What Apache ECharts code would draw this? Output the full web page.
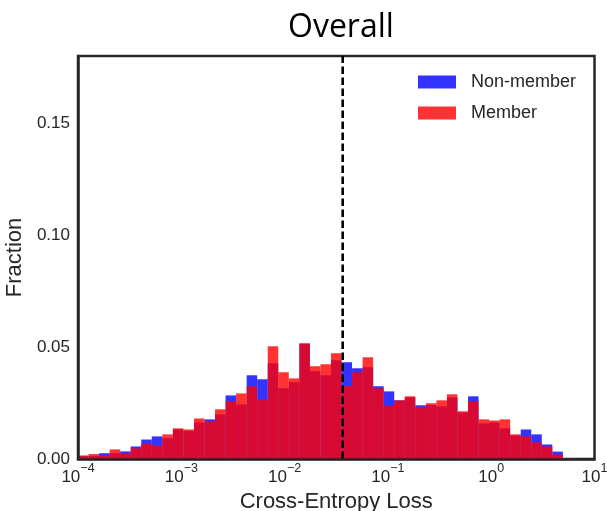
<!DOCTYPE html>
<html>
<head>
<meta charset="utf-8">
<script src="https://cdn.jsdelivr.net/npm/echarts@6/dist/echarts.min.js"></script>
<style>
  html, body { margin: 0; padding: 0; background: #ffffff; }
  #chart { width: 607px; height: 511px; }
</style>
</head>
<body>
<div id="chart"></div>
<script>
// Histogram of per-sample cross-entropy loss, log-spaced bins from 1e-4 to 1e1
const BIN_LOG_START = -4;
const BIN_LOG_END = 1;
const BIN_COUNT = 49;

// Fraction of samples per bin (first 47 bins; the rest are empty)
const nonMember = [
  0.0013, 0.0014, 0.0026, 0.0026, 0.0034, 0.0056, 0.0087, 0.0101, 0.0093, 0.0132,
  0.0125, 0.0163, 0.0177, 0.0199, 0.0284, 0.0244, 0.0374, 0.0356, 0.0428, 0.0316,
  0.0343, 0.0515, 0.0392, 0.0374, 0.0441, 0.0432, 0.0405, 0.0410, 0.0325, 0.0302,
  0.0262, 0.0275, 0.0240, 0.0241, 0.0235, 0.0275, 0.0208, 0.0280, 0.0159, 0.0163,
  0.0137, 0.0105, 0.0132, 0.0110, 0.0065, 0.0033, 0.0004
];
const member = [
  0.0016, 0.0022, 0.0017, 0.0043, 0.0025, 0.0048, 0.0069, 0.0060, 0.0110, 0.0137,
  0.0132, 0.0181, 0.0168, 0.0222, 0.0258, 0.0293, 0.0325, 0.0265, 0.0504, 0.0387,
  0.0360, 0.0517, 0.0414, 0.0423, 0.0472, 0.0326, 0.0387, 0.0454, 0.0316, 0.0237,
  0.0262, 0.0280, 0.0231, 0.0249, 0.0262, 0.0289, 0.0213, 0.0258, 0.0177, 0.0172,
  0.0177, 0.0110, 0.0101, 0.0074, 0.0056, 0.0020, 0.0004
];

// Decision threshold on the loss
const threshold = 0.0365;
const Y_MAX = 0.18;
const yTicks = [0, 0.05, 0.10, 0.15];
const seriesNames = ['Non-member', 'Member'];

const FONT = "'Liberation Sans', Arial, sans-serif";
const INK = '#262626';

function binEdge(i) {
  return Math.pow(10, BIN_LOG_START + i * (BIN_LOG_END - BIN_LOG_START) / BIN_COUNT);
}
function toBins(values) {
  return values.map((v, i) => [binEdge(i), binEdge(i + 1), v]);
}

function renderBar(params, api) {
  const lo = api.value(0), hi = api.value(1), v = api.value(2);
  const p0 = api.coord([lo, v]);
  const p1 = api.coord([hi, 0]);
  return {
    type: 'rect',
    shape: { x: p0[0], y: p0[1], width: p1[0] - p0[0], height: p1[1] - p0[1] },
    style: { fill: api.visual('color') }
  };
}

const supMinus = s => s.replace('-', '\u2212');

const chart = echarts.init(document.getElementById('chart'), null, { renderer: 'canvas' });
chart.setOption({
  animation: false,
  backgroundColor: '#ffffff',
  title: {
    text: 'Overall',
    left: 283,
    top: 7,
    textStyle: { fontFamily: "'Open Sans', sans-serif", fontSize: 32, fontWeight: 'normal', color: '#000000' }
  },
  legend: {
    data: seriesNames,
    orient: 'vertical',
    left: 418,
    top: 73,
    padding: 0,
    itemWidth: 38,
    itemHeight: 13,
    itemGap: 13,
    icon: 'rect',
    textStyle: { fontFamily: FONT, fontSize: 18, color: INK, padding: [0, 0, 0, 10] }
  },
  grid: {
    left: 78, right: 12.5, top: 56, bottom: 52,
    outerBoundsMode: 'none',
    containLabel: false,
    show: true, borderColor: INK, borderWidth: 2.5, backgroundColor: 'transparent'
  },
  xAxis: {
    type: 'log',
    logBase: 10,
    min: 1e-4,
    max: 10,
    z: 5,
    name: 'Cross-Entropy Loss',
    nameLocation: 'middle',
    nameGap: 30,
    nameTextStyle: { fontFamily: FONT, fontSize: 22, color: INK },
    axisLine: { show: true, lineStyle: { color: INK, width: 2.5 } },
    axisTick: { show: false },
    splitLine: { show: false },
    minorTick: { show: false },
    axisLabel: {
      margin: 3,
      showMinLabel: true,
      showMaxLabel: true,
      formatter: function (val) {
        const e = Math.round(Math.log10(val));
        return '{b|10}{s|' + supMinus(String(e)) + '}';
      },
      rich: {
        b: { fontFamily: FONT, fontSize: 17, color: INK, lineHeight: 24, verticalAlign: 'bottom' },
        s: { fontFamily: FONT, fontSize: 12.5, color: INK, lineHeight: 10, verticalAlign: 'top' }
      }
    }
  },
  yAxis: {
    type: 'value',
    min: 0,
    max: Y_MAX,
    interval: 0.05,
    z: 5,
    name: 'Fraction',
    nameLocation: 'middle',
    nameGap: 48,
    nameTextStyle: { fontFamily: FONT, fontSize: 22, color: INK },
    axisLine: { show: true, lineStyle: { color: INK, width: 2.5 } },
    axisTick: { show: false },
    splitLine: { show: false },
    axisLabel: {
      margin: 8,
      showMaxLabel: false,
      fontFamily: FONT,
      fontSize: 17,
      color: INK,
      formatter: function (val) {
        return yTicks.some(t => Math.abs(t - val) < 1e-9) ? val.toFixed(2) : '';
      }
    }
  },
  series: [
    {
      name: seriesNames[0],
      type: 'custom',
      renderItem: renderBar,
      dimensions: ['lo', 'hi', 'fraction'],
      encode: { x: [0, 1], y: 2 },
      itemStyle: { color: 'rgba(0, 0, 255, 0.8)' },
      data: toBins(nonMember),
      z: 2
    },
    {
      name: seriesNames[1],
      type: 'custom',
      renderItem: renderBar,
      dimensions: ['lo', 'hi', 'fraction'],
      encode: { x: [0, 1], y: 2 },
      itemStyle: { color: 'rgba(255, 0, 0, 0.8)' },
      data: toBins(member),
      z: 3
    },
    {
      name: 'threshold',
      type: 'line',
      silent: true,
      symbol: 'none',
      z: 4,
      lineStyle: { color: '#000000', width: 2.6, type: [7.5, 3.5] },
      data: [[threshold, 0], [threshold, Y_MAX]]
    }
  ]
});
</script>
</body>
</html>
